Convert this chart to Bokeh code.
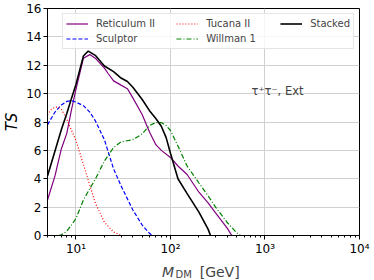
import math
from bokeh.plotting import figure
from bokeh.layouts import column
from bokeh.models import (Legend, LegendItem, FixedTicker, CustomJSTickFormatter,
                          Label, Range1d)
from bokeh.embed import file_html
from bokeh.resources import INLINE

# ---- data ----
reticulum_m = [5, 6, 7, 8, 9, 10, 12, 14, 16, 20, 22, 25, 30, 35, 40, 50, 60, 70, 80,
               100, 120, 150, 200, 250, 300, 400, 445]
reticulum_ts = [2.5, 4.2, 6.1, 7.2, 8.9, 10.3, 12.5, 12.75, 12.5, 11.8, 11.4, 10.9, 10.6,
                10.35, 9.7, 8.55, 7.3, 6.4, 6.0, 5.5, 4.9, 4.3, 3.05, 2.3, 1.6, 0.5, 0.0]

sculptor_m = [5, 6, 7, 8, 9, 10, 12, 14, 16, 20, 25, 30, 40, 50, 60, 65]
sculptor_ts = [7.8, 8.7, 9.2, 9.45, 9.5, 9.4, 9.15, 8.7, 8.1, 6.75, 4.7, 3.5, 1.8, 0.75,
               0.15, 0.0]

tucana_m = [5, 5.5, 6, 6.5, 7, 8, 9, 10, 12, 14, 16, 20, 25, 30]
tucana_ts = [8.5, 8.9, 9.05, 9.05, 8.9, 8.2, 7.4, 6.7, 5.0, 3.55, 2.3, 0.93, 0.25, 0.0]

willman_m = [6.5, 7, 8, 9, 10, 12, 14, 16, 20, 25, 30, 40, 50, 60, 70, 80, 90, 100, 120,
             150, 200, 250, 300, 400, 500, 550]
willman_ts = [0.0, 0.05, 0.3, 0.75, 1.2, 2.5, 3.3, 3.95, 5.25, 6.2, 6.6, 6.75, 7.15, 7.75,
              7.96, 7.96, 7.75, 7.4, 6.3, 4.9, 3.7, 2.8, 2.0, 0.9, 0.2, 0.0]

stacked_m = [5, 6, 7, 8, 9, 10, 12, 13.5, 16, 20, 25, 30, 35, 40, 50, 60, 70, 80, 90, 100,
             120, 150, 200, 250, 265]
stacked_ts = [4.2, 5.95, 7.45, 8.6, 9.7, 10.65, 12.65, 13.0, 12.7, 11.95, 11.55, 11.1,
              10.85, 10.45, 9.6, 8.8, 8.25, 7.7, 6.9, 5.8, 4.0, 2.95, 1.65, 0.45, 0.0]

series_names = ["Reticulum II", "Sculptor", "Tucana II", "Willman 1", "Stacked"]
x_ticks = [10, 100, 1000, 10000]
y_ticks = [0, 2, 4, 6, 8, 10, 12, 14, 16]
annotation_text = "τ⁺τ⁻, Ext"

FONT = "DejaVu Sans"
NB = "\u00a0"

p = figure(width=374, height=258, x_axis_type="log",
           x_range=Range1d(5, 1e4), y_range=Range1d(0, 16),
           output_backend="svg", toolbar_location=None,
           min_border_left=44, min_border_right=15, min_border_top=8,
           min_border_bottom=21)

p.outline_line_color = "black"
p.outline_line_width = 1
p.background_fill_color = "white"

# ticks
x_minor = [m * 10 ** k for k in range(0, 4) for m in range(2, 10) if m * 10 ** k >= 5]
p.xaxis.ticker = FixedTicker(ticks=x_ticks, minor_ticks=x_minor)
p.yaxis.ticker = FixedTicker(ticks=y_ticks)
p.xgrid.ticker = FixedTicker(ticks=x_ticks)
p.ygrid.ticker = FixedTicker(ticks=y_ticks)
p.xaxis.formatter = CustomJSTickFormatter(code="""
const e = Math.round(Math.log10(tick));
const s = {"0":"\u2070","1":"\u00b9","2":"\u00b2","3":"\u00b3","4":"\u2074","5":"\u2075"};
return "10" + (s[String(e)] || String(e));
""")

for ax in (p.xaxis[0], p.yaxis[0]):
    ax.axis_line_color = "black"
    ax.major_tick_line_color = "black"
    ax.major_tick_in = 0
    ax.major_tick_out = 4
    ax.minor_tick_in = 0
    ax.minor_tick_out = 2
    ax.major_label_text_font = FONT
    ax.major_label_text_font_size = "12px"
    ax.major_label_text_color = "black"
    ax.major_label_standoff = 2
p.yaxis.minor_tick_line_color = None
p.yaxis.axis_label = "TS"
p.yaxis.axis_label_text_font = FONT
p.yaxis.axis_label_text_font_style = "italic"
p.yaxis.axis_label_text_font_size = "15px"
p.yaxis.axis_label_text_color = "black"
p.yaxis.axis_label_standoff = 2

p.xgrid.grid_line_color = "#d0d0d0"
p.ygrid.grid_line_color = "#d0d0d0"
p.xgrid.grid_line_width = 1
p.ygrid.grid_line_width = 1

# lines
r1 = p.line(reticulum_m, reticulum_ts, line_color="purple", line_width=1.2)
r2 = p.line(sculptor_m, sculptor_ts, line_color="blue", line_width=1.2, line_dash="4 2")
r3 = p.line(tucana_m, tucana_ts, line_color="red", line_width=1.2, line_dash="1 2")
r4 = p.line(willman_m, willman_ts, line_color="green", line_width=1.2, line_dash="5 2 1 2")
r5 = p.line(stacked_m, stacked_ts, line_color="black", line_width=1.6)

# trailing no-break spaces widen the first two legend columns like the reference
legend = Legend(items=[
    LegendItem(label=series_names[0] + NB * 6, renderers=[r1]),
    LegendItem(label=series_names[1], renderers=[r2]),
    LegendItem(label=series_names[2], renderers=[r3]),
    LegendItem(label=series_names[3] + NB * 7, renderers=[r4]),
    LegendItem(label=series_names[4], renderers=[r5]),
], location="top_right", orientation="vertical", nrows=2)
legend.label_text_font = FONT
legend.label_text_font_size = "10px"
legend.glyph_width = 22
legend.glyph_height = 13
legend.label_height = 13
legend.label_standoff = 8
legend.spacing = 2
legend.padding = 3
legend.margin = 5
legend.border_line_color = "#cccccc"
legend.background_fill_alpha = 0.8
p.add_layout(legend)

# annotation text inside the frame
p.add_layout(Label(x=1358, y=10.2, text=annotation_text, text_font=FONT,
                   text_font_size="11.5px", text_align="center", text_baseline="middle"))

# strip below for the composed x-axis title (M italic, DM subscript, [GeV])
t = figure(width=374, height=22, x_axis_type="log",
           x_range=Range1d(5, 1e4), y_range=Range1d(280, 258),
           output_backend="svg", toolbar_location=None,
           x_axis_location=None, y_axis_location=None,
           min_border_left=44, min_border_right=15, min_border_top=0,
           min_border_bottom=0)
t.outline_line_color = None
t.grid.visible = False
t.add_layout(Label(x=81.5, y=271, text="M", text_font=FONT, text_font_style="italic",
                   text_font_size="14px", text_align="left", text_baseline="alphabetic"))
t.add_layout(Label(x=113, y=273.5, text="DM", text_font=FONT,
                   text_font_size="10px", text_align="left", text_baseline="alphabetic"))
t.add_layout(Label(x=203.7, y=271, text="[GeV]", text_font=FONT,
                   text_font_size="14px", text_align="left", text_baseline="alphabetic"))

layout = column(p, t, spacing=0)

open("out.html", "w").write(file_html(layout, INLINE))
